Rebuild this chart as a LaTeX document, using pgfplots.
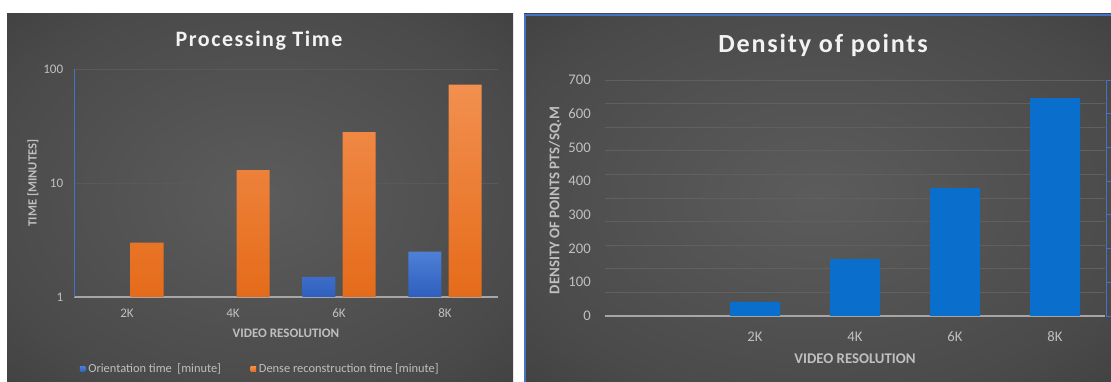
\documentclass[border=0pt]{standalone}
\usepackage{fontspec}
\setmainfont{Carlito}
\newfontfamily\titlefont[LetterSpace=7]{Carlito}
\usepackage{pgfplots}
\pgfplotsset{compat=1.18}

\definecolor{txt}{HTML}{BFBFBF}
\definecolor{ttl}{HTML}{F2F2F2}
\definecolor{gridc}{HTML}{595959}
\definecolor{gridr}{HTML}{606060}
\definecolor{baseln}{HTML}{A6A6A6}
\definecolor{edgeblue}{HTML}{4472C4}
\definecolor{orTop}{HTML}{F2904F}
\definecolor{orBot}{HTML}{E56B1A}
\definecolor{blTop}{HTML}{4E80D6}
\definecolor{blBot}{HTML}{2E5FBE}
\definecolor{denblue}{HTML}{0A6FCC}

% soft glow behind each chart
\pgfdeclareradialshading{panelglow}{\pgfpoint{0bp}{0bp}}{%
  rgb(0bp)=(0.36,0.36,0.36); rgb(28bp)=(0.29,0.29,0.29);
  rgb(55bp)=(0.18,0.18,0.18); rgb(75bp)=(0.14,0.14,0.14)}

\begin{document}
\begin{tikzpicture}
\useasboundingbox (0,0) rectangle (833.25pt,286.5pt);
\fill[white] (0,0) rectangle (833.25pt,286.5pt);

% chart backgrounds
\shade[shading=panelglow] (5.25pt,0) rectangle (384.75pt,276pt);
\shade[shading=panelglow] (393pt,0) rectangle (833.25pt,276pt);
\draw[edgeblue, line width=1.5pt] (393.5pt,0) -- (393.5pt,275.5pt) -- (834pt,275.5pt);

% titles
\node[anchor=base, text=ttl, font={\titlefont\bfseries\fontsize{16.5}{18}\selectfont}]
  at (194.25pt,251.25pt) {Processing Time};
\node[anchor=base, text=ttl, font={\titlefont\bfseries\fontsize{19.6}{22}\selectfont}]
  at (617.25pt,246.75pt) {Density of points};

% ---------- processing time (log scale) ----------
\begin{axis}[
  at={(55.5pt,63.75pt)}, anchor=south west,
  scale only axis, width=318pt, height=171pt,
  ymode=log, ymin=1, ymax=100,
  xmin=-0.5, xmax=3.5,
  xtick={0,1,2,3}, xticklabels={2K,4K,6K,8K},
  ytick={1,10,100}, yticklabels={1,10,100},
  yminorticks=false,
  separate axis lines,
  axis x line*=bottom, axis y line*=left,
  x axis line style={baseln, line width=0.8pt},
  y axis line style={edgeblue, line width=0.6pt},
  major tick length=0pt,
  ymajorgrids, major grid style={gridc, line width=0.6pt},
  /pgf/number format/assume math mode=true,
  ticklabel style={text=txt, inner sep=0pt, font=\fontsize{9.8}{10}\selectfont},
  yticklabel style={anchor=east, xshift=-7.9pt},
  xticklabel style={anchor=center, yshift=-12pt},
  xlabel={VIDEO RESOLUTION},
  xlabel style={at={(axis description cs:0.5,-0.158)}, anchor=center,
    text=txt, font=\bfseries\fontsize{9.75}{10}\selectfont},
  ylabel={TIME [MINUTES]},
  ylabel style={at={(axis description cs:-0.0967,0.5)}, anchor=center,
    text=txt, font=\bfseries\fontsize{9.4}{10}\selectfont},
  legend columns=2,
  legend cell align=left,
  legend style={at={(axis description cs:0.44,-0.316)}, anchor=center,
    draw=none, fill=none, text=txt, font=\fontsize{9.3}{10}\selectfont,
    /tikz/every even column/.append style={column sep=20pt}},
  legend image code/.code={\fill[#1] (0pt,-2.2pt) rectangle (4.4pt,2.2pt);},
]
\addplot[ybar, bar width=0.31, bar shift=-0.19, draw=none,
  top color=blTop, bottom color=blBot]
  coordinates {(2,1.5) (3,2.5)};
\addlegendentry{Orientation time~ [minute]}
\addplot[ybar, bar width=0.31, bar shift=0.19, draw=none,
  top color=orTop, bottom color=orBot]
  coordinates {(0,3) (1,13) (2,28) (3,73)};
\addlegendentry{Dense reconstruction time [minute]}
\end{axis}

% ---------- density of points ----------
\begin{axis}[
  at={(453.75pt,49.5pt)}, anchor=south west,
  scale only axis, width=375pt, height=177pt,
  ymin=0, ymax=700,
  xmin=-0.5, xmax=4.5,
  xtick={1,2,3,4}, xticklabels={2K,4K,6K,8K},
  ytick={0,100,...,700},
  extra y ticks={70,140,...,700}, extra y tick labels={},
  extra y tick style={grid=major, major grid style={gridr, line width=0.6pt}},
  separate axis lines,
  axis x line*=bottom, axis y line*=left,
  y axis line style={draw=none},
  x axis line style={baseln, line width=0.9pt},
  major tick length=0pt,
  /pgf/number format/assume math mode=true,
  ticklabel style={text=txt, inner sep=0pt, font=\fontsize{11}{12}\selectfont},
  yticklabel style={anchor=east, xshift=-10.5pt},
  xticklabel style={anchor=center, yshift=-15.75pt},
  xlabel={VIDEO RESOLUTION},
  xlabel style={at={(axis description cs:0.5,-0.182)}, anchor=center,
    text=txt, font=\bfseries\fontsize{11.1}{12}\selectfont},
  ylabel={DENSITY OF POINTS PTS/SQ.M},
  ylabel style={at={(axis description cs:-0.1,0.49)}, anchor=center,
    text=txt, font=\bfseries\fontsize{11.1}{12}\selectfont},
]
\addplot[ybar, bar width=0.5, draw=none, fill=denblue]
  coordinates {(1,42) (2,169) (3,379) (4,646)};
\end{axis}

% secondary value axis on the right edge (tick marks only)
\begin{axis}[
  at={(453.75pt,49.5pt)}, anchor=south west,
  scale only axis, width=375.75pt, height=177pt,
  xmin=0, xmax=1, ymin=0, ymax=700,
  axis x line=none, axis y line*=right,
  y axis line style={edgeblue, line width=0.75pt},
  ytick=\empty,
  extra y ticks={0,100,...,700}, extra y tick labels={},
  extra y tick style={tick align=outside, major tick length=3.5pt,
    major tick style={edgeblue, line width=0.7pt}},
]
\end{axis}
\end{tikzpicture}
\end{document}
